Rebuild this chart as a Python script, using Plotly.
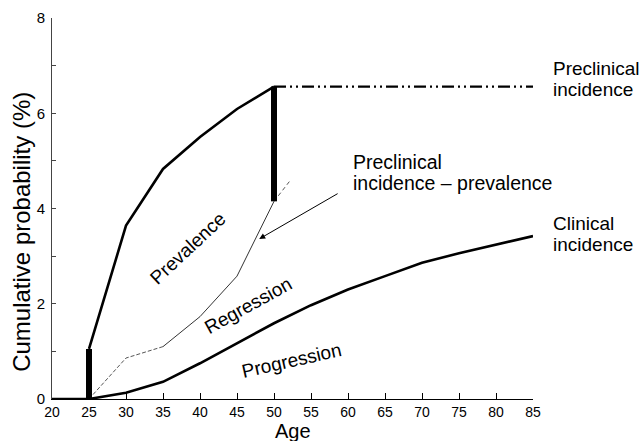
import plotly.graph_objects as go

# ---- data ----
age_ticks = [20, 25, 30, 35, 40, 45, 50, 55, 60, 65, 70, 75, 80, 85]
prob_ticks = [0, 2, 4, 6, 8]

# Preclinical incidence (upper curve)
precl_age = [25, 30, 35, 40, 45, 50]
precl_val = [1.05, 3.64, 4.83, 5.50, 6.09, 6.56]
# plateau after age 50 (dash-dot)
plateau_age = [50, 85]
plateau_val = [6.56, 6.56]

# Preclinical incidence - prevalence (thin line)
diff_age_a = [25, 30, 35]
diff_val_a = [0.0, 0.86, 1.10]
diff_age_b = [35, 40, 45, 50]
diff_val_b = [1.10, 1.73, 2.58, 4.15]
diff_age_c = [50, 52.1]
diff_val_c = [4.15, 4.57]

# Clinical incidence (lower curve)
clin_age = [20, 25, 30, 35, 40, 45, 50, 55, 60, 65, 70, 75, 80, 85]
clin_val = [0.0, 0.0, 0.13, 0.36, 0.75, 1.17, 1.59, 1.97, 2.30, 2.58, 2.86, 3.06, 3.24, 3.42]

# thick vertical bars (prevalence at age 25 and 50)
bar25_age = [25, 25]
bar25_val = [0.0, 1.05]
bar50_age = [50, 50]
bar50_val = [4.15, 6.56]

FONT = "Liberation Sans, Arial, Helvetica, sans-serif"

fig = go.Figure()

def line(x, y, width, dash="solid", color="black"):
    fig.add_trace(go.Scatter(x=x, y=y, mode="lines",
                             line=dict(color=color, width=width, dash=dash),
                             cliponaxis=False, hoverinfo="skip", showlegend=False))

line(clin_age, clin_val, 2.6)
line(precl_age, precl_val, 2.6)
line(plateau_age, plateau_val, 2.2, dash="12px,4px,2px,4px,2px,4px")
line(diff_age_a, diff_val_a, 1, dash="4px,2px", color="#555555")
line(diff_age_b, diff_val_b, 1, color="#333333")
line(diff_age_c, diff_val_c, 1, dash="4px,3px", color="#555555")
line(bar25_age, bar25_val, 6)
line(bar50_age, bar50_val, 6)

ann = []
def text(x, y, s, size=19.5, angle=0, xanchor="center", xref="x", yref="y"):
    ann.append(dict(x=x, y=y, xref=xref, yref=yref, text=s, showarrow=False,
                    textangle=angle, xanchor=xanchor, yanchor="middle", align="left",
                    font=dict(family=FONT, size=size, color="black")))

text(38.3, 3.17, "Prevalence", size=19, angle=-43)
text(46.5, 1.97, "Regression", size=19, angle=-29)
text(52.4, 0.80, "Progression", size=19, angle=-12.7)
# right-hand labels (two lines each, tight leading as in the original)
text(1.038, 6.93, "Preclinical", size=19, xanchor="left", xref="paper")
text(1.038, 6.49, "incidence", size=19, xanchor="left", xref="paper")
text(1.038, 3.69, "Clinical", size=19, xanchor="left", xref="paper")
text(1.038, 3.25, "incidence", size=19, xanchor="left", xref="paper")
text(60.4, 4.97, "Preclinical", xanchor="left")
text(60.4, 4.53, "incidence – prevalence", xanchor="left")
# axis titles
text(0.5, -0.084, "Age", size=20, xref="paper", yref="paper")
text(-0.0624, 3.51, "Cumulative probability (%)", size=24, angle=-90, xref="paper")

ann.append(dict(x=48.0, y=3.36, ax=58.8, ay=4.33, xref="x", yref="y",
                axref="x", ayref="y", showarrow=True, arrowhead=2,
                arrowsize=1.2, arrowwidth=1, arrowcolor="black", text=""))

fig.update_layout(
    width=644, height=441, autosize=False,
    margin=dict(l=52, r=111, t=18, b=42, autoexpand=False),
    paper_bgcolor="white", plot_bgcolor="white",
    font=dict(family=FONT, color="black"),
    annotations=ann,
    xaxis=dict(range=[20, 85], tickvals=age_ticks, ticktext=[str(v) for v in age_ticks],
               automargin=False,
               showgrid=False, zeroline=False, showline=True, linecolor="black", linewidth=1,
               ticks="inside", ticklen=6, tickwidth=1, tickcolor="black",
               tickfont=dict(family=FONT, size=14, color="black")),
    yaxis=dict(range=[0, 8], tickvals=prob_ticks, ticktext=[str(v) for v in prob_ticks],
               automargin=False,
               showgrid=False, zeroline=False, showline=True, linecolor="#444444", linewidth=1,
               ticks="inside", ticklen=4, tickwidth=1, tickcolor="#444444",
               minor=dict(dtick=1, ticks="inside", ticklen=4, tickcolor="#444444"),
               tickfont=dict(family=FONT, size=15, color="black"),
               ticklabelstandoff=3),
)

fig.write_html("out.html",
               config={"displayModeBar": False, "staticPlot": True},
               post_script="document.body.style.margin='0';document.body.style.overflow='hidden';")
